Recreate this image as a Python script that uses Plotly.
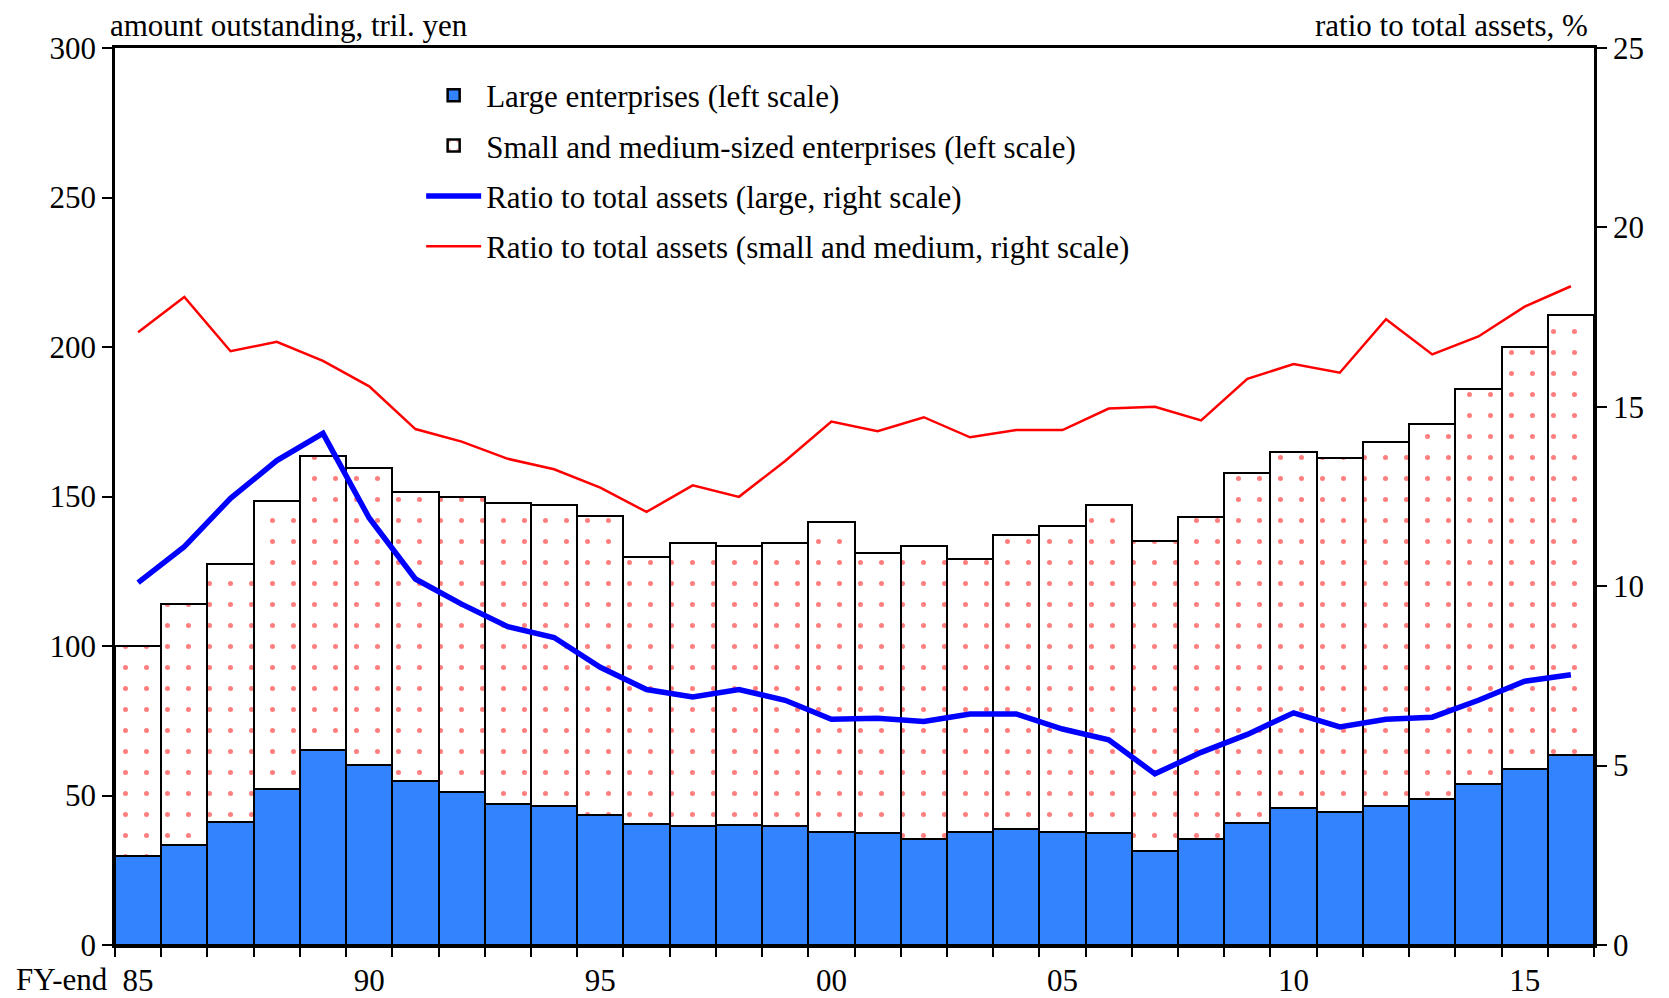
import plotly.graph_objects as go

years = list(range(1985, 2017))
tick_positions = [0, 5, 10, 15, 20, 25, 30]
tick_labels = ["85", "90", "95", "00", "05", "10", "15"]

large = [29.9, 33.5, 41.3, 52.3, 65.1, 60.1, 54.8, 51.2, 47.3, 46.6, 43.4, 40.6,
         39.9, 40.2, 39.9, 37.7, 37.4, 35.6, 37.7, 38.8, 37.7, 37.4, 31.3, 35.6,
         40.9, 45.9, 44.5, 46.6, 48.8, 53.7, 58.7, 63.7]
total = [100.0, 113.9, 127.4, 148.4, 163.7, 159.4, 151.6, 149.8, 147.7, 147.0, 143.4, 129.9,
         134.5, 133.5, 134.5, 141.6, 131.0, 133.5, 129.2, 137.0, 140.2, 147.0, 135.2, 143.0,
         157.7, 164.8, 163.0, 168.3, 174.4, 185.8, 200.0, 210.7]
sme = [round(t - l, 1) for t, l in zip(total, large)]

ratio_large = [10.1, 11.1, 12.45, 13.5, 14.26, 11.9, 10.2, 9.5, 8.87, 8.57, 7.74, 7.12,
               6.91, 7.12, 6.82, 6.29, 6.32, 6.23, 6.44, 6.44, 6.02, 5.72, 4.77, 5.37,
               5.87, 6.47, 6.08, 6.29, 6.35, 6.82, 7.35, 7.53]
ratio_sme = [17.08, 18.06, 16.55, 16.81, 16.28, 15.57, 14.38, 14.03, 13.55, 13.26, 12.75, 12.07,
             12.81, 12.49, 13.49, 14.59, 14.32, 14.71, 14.15, 14.35, 14.35, 14.95, 15.0, 14.62,
             15.78, 16.19, 15.95, 17.44, 16.46, 16.96, 17.79, 18.36]

xi = list(range(len(years)))
FONT = "Liberation Serif"
FS = 31

fig = go.Figure()
fig.add_trace(go.Bar(
    x=xi, y=large, name="Large enterprises (left scale)",
    marker=dict(color="#3383FF", line=dict(color="black", width=2.5)),
    legendgroup="a",
))
fig.add_trace(go.Bar(
    x=xi, y=sme, name="Small and medium-sized enterprises (left scale)",
    marker=dict(color="white", line=dict(color="black", width=2.5),
                pattern=dict(shape=".", fgcolor="#FF0000", bgcolor="white",
                             size=21, solidity=0.045, fillmode="overlay")),
    legendgroup="b",
))
fig.add_trace(go.Scatter(
    x=xi, y=ratio_large, name="Ratio to total assets (large, right scale)",
    mode="lines", line=dict(color="#0000FF", width=5.5), yaxis="y2",
    legendgroup="c",
))
fig.add_trace(go.Scatter(
    x=xi, y=ratio_sme, name="Ratio to total assets (small and medium, right scale)",
    mode="lines", line=dict(color="#FF0000", width=2.5), yaxis="y2",
    legendgroup="d",
))

fig.update_layout(
    width=1661, height=990,
    margin=dict(l=107, r=75, t=40, b=53),
    paper_bgcolor="white", plot_bgcolor="white",
    font=dict(family=FONT, size=FS, color="black"),
    barmode="stack", bargap=0,
    showlegend=True,
    legend=dict(x=0.207, y=0.977, xanchor="left", yanchor="top",
                bgcolor="rgba(0,0,0,0)", itemwidth=55, tracegroupgap=7,
                font=dict(family=FONT, size=FS), traceorder="grouped"),
    xaxis=dict(range=[-0.5, 31.5], tickvals=tick_positions, ticktext=tick_labels,
               ticks="", showgrid=False, zeroline=False, automargin=False,
               showline=True, linecolor="black", linewidth=2.5, mirror=True,
               minor=dict(tick0=-0.5, dtick=1, ticks="outside", ticklen=9,
                          tickwidth=2, tickcolor="black", showgrid=False),
               ticklabelstandoff=6),
    yaxis=dict(range=[0, 300], dtick=50, ticks="outside", ticklen=10, tickwidth=2,
               tickcolor="black", showgrid=False, zeroline=False, automargin=False,
               showline=True, linecolor="black", linewidth=2.5),
    yaxis2=dict(range=[0, 25], dtick=5, overlaying="y", side="right",
                ticks="outside", ticklen=10, tickwidth=2, tickcolor="black",
                showgrid=False, zeroline=False, automargin=False,
                showline=True, linecolor="black", linewidth=2.5),
    annotations=[
        dict(text="amount outstanding, tril. yen", xref="paper", yref="paper",
             x=-0.005, y=1.0, yshift=3, xanchor="left", yanchor="bottom",
             showarrow=False, font=dict(family=FONT, size=FS)),
        dict(text="ratio to total assets, %", xref="paper", yref="paper",
             x=0.997, y=1.0, yshift=3, xanchor="right", yanchor="bottom",
             showarrow=False, font=dict(family=FONT, size=FS)),
        dict(text="FY-end", xref="paper", yref="paper",
             x=-0.004, y=0, yshift=-34, xanchor="right", yanchor="middle",
             borderpad=0, showarrow=False, font=dict(family=FONT, size=FS)),
    ],
)

fig.write_html("out.html")
